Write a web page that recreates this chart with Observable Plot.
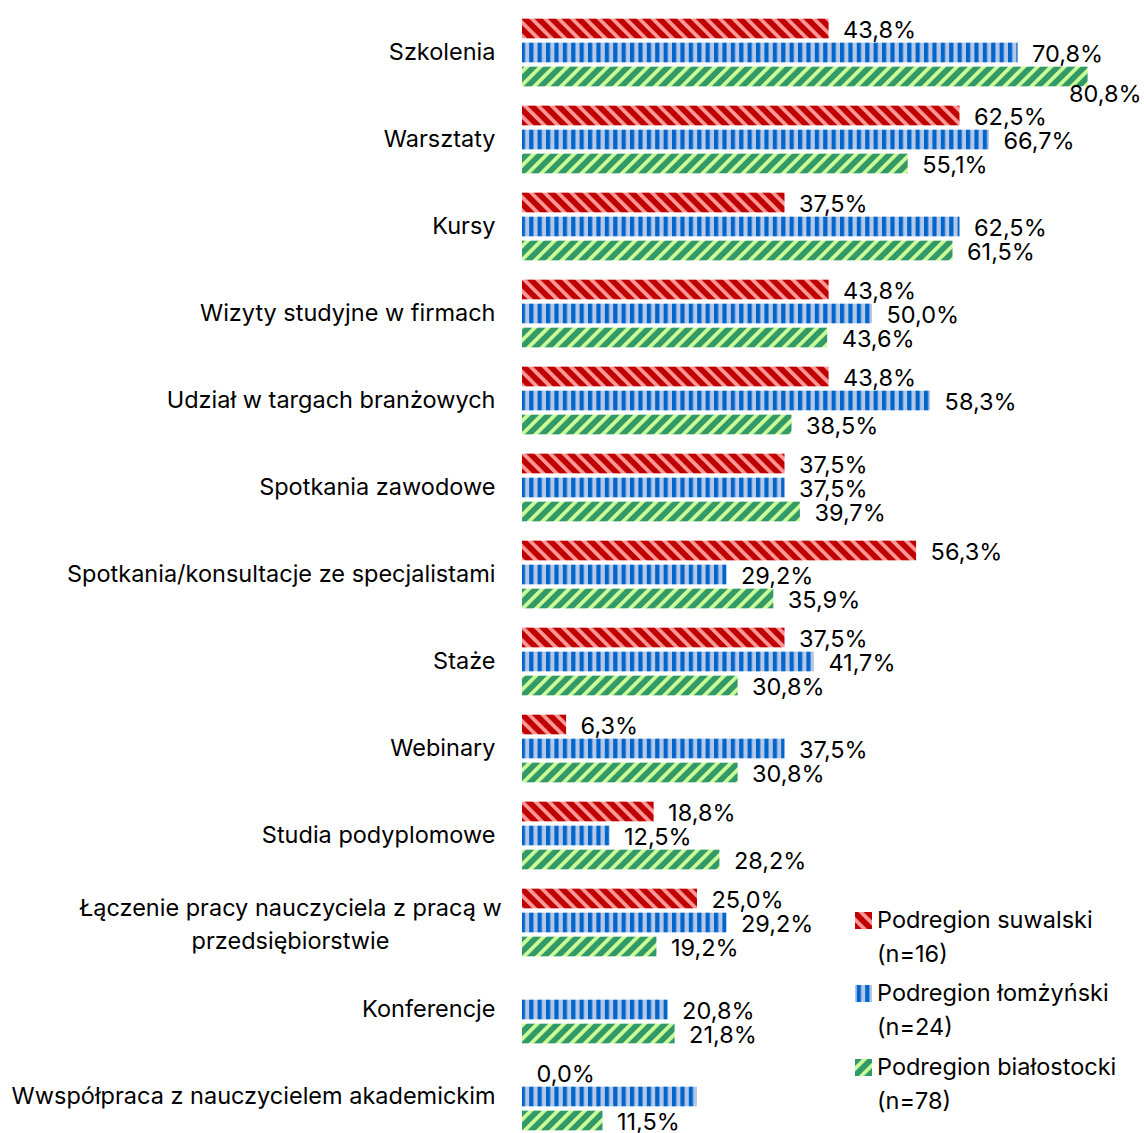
<!DOCTYPE html>
<html>
<head>
<meta charset="utf-8">
<script src="https://cdn.jsdelivr.net/npm/d3@7"></script>
<script src="https://cdn.jsdelivr.net/npm/@observablehq/plot@0.6"></script>
<style>
  html, body { margin: 0; padding: 0; background: #fff; overflow: hidden; }
  #chart { position: relative; width: 1144px; height: 1133px; }
</style>
</head>
<body>
<svg width="0" height="0" style="position:absolute">
  <defs>
    <pattern id="pRed" patternUnits="userSpaceOnUse" width="9.5" height="9.5" patternTransform="rotate(-45)">
      <rect width="9.5" height="9.5" fill="#C00000"></rect>
      <rect x="0" width="3.7" height="9.5" fill="#FF9999"></rect>
    </pattern>
    <pattern id="pBlue" patternUnits="userSpaceOnUse" width="8.4" height="8.4">
      <rect width="8.4" height="8.4" fill="#B4C7E7"></rect>
      <rect x="0" width="4.2" height="8.4" fill="#0066CC"></rect>
    </pattern>
    <pattern id="pGreen" patternUnits="userSpaceOnUse" width="9.5" height="9.5" patternTransform="rotate(45)">
      <rect width="9.5" height="9.5" fill="#339966"></rect>
      <rect x="0" width="3.7" height="9.5" fill="#CCFF99"></rect>
    </pattern>
  </defs>
</svg>
<div id="chart"></div>
<script>
const categories = [
  "Szkolenia",
  "Warsztaty",
  "Kursy",
  "Wizyty studyjne w firmach",
  "Udział w targach branżowych",
  "Spotkania zawodowe",
  "Spotkania/konsultacje ze specjalistami",
  "Staże",
  "Webinary",
  "Studia podyplomowe",
  "Łączenie pracy nauczyciela z pracą w\nprzedsiębiorstwie",
  "Konferencje",
  "Wwspółpraca z nauczycielem akademickim"
];
const seriesNames = ["Podregion suwalski", "Podregion łomżyński", "Podregion białostocki"];
const seriesN = ["(n=16)", "(n=24)", "(n=78)"];
const suwalski   = [43.8, 62.5, 37.5, 43.8, 43.8, 37.5, 56.3, 37.5, 6.3, 18.8, 25.0, null, 0.0];
const lomzynski  = [70.8, 66.7, 62.5, 50.0, 58.3, 37.5, 29.2, 41.7, 37.5, 12.5, 29.2, 20.8, 25.0];
const bialostocki= [80.8, 55.1, 61.5, 43.6, 38.5, 39.7, 35.9, 30.8, 30.8, 28.2, 19.2, 21.8, 11.5];
// value labels that are not shown in the original
const unlabeled = [["Podregion łomżyński", "Wwspółpraca z nauczycielem akademickim"]];

const patterns = ["url(#pRed)", "url(#pBlue)", "url(#pGreen)"];
const seriesValues = [suwalski, lomzynski, bialostocki];

const data = [];
seriesNames.forEach((s, si) => {
  categories.forEach((c, ci) => {
    const v = seriesValues[si][ci];
    if (v == null) return;
    const hidden = unlabeled.some(([us, uc]) => us === s && uc === c);
    data.push({series: s, si, category: c, value: v, hidden});
  });
});

const fmt = v => d3.format(".1f")(v).replace(".", ",") + "%";
const W = 1144, H = 1133, ML = 522;
const pxPerPct = 7;
const xMax = (W - ML) / pxPerPct;
const step = 87.33, firstCenter = 51;
const yRange = [firstCenter - step / 2, firstCenter - step / 2 + step * categories.length];
const FONT = 23.5;
const FAMILY = "Inter, Roboto, 'Noto Sans', sans-serif";
const barH = 20, gap = 24;
const half = step / 2;
const insets = [0, 1, 2].map(i => {
  const top = half + (i - 1) * gap - barH / 2;
  return {insetTop: top, insetBottom: step - top - barH};
});
const labelWidth = 75;
const fits = d => d.value * pxPerPct + 15 + labelWidth <= W - ML;

const marks = [];
[0, 1, 2].forEach(i => {
  const sub = data.filter(d => d.si === i);
  marks.push(Plot.barX(sub, {
    x: "value", y: "category", fill: patterns[i],
    insetTop: insets[i].insetTop, insetBottom: insets[i].insetBottom
  }));
  marks.push(Plot.text(sub.filter(d => !d.hidden && fits(d)), {
    x: "value", y: "category", text: d => fmt(d.value),
    textAnchor: "start", dx: 14, dy: (i - 1) * gap + 1,
    fontSize: FONT, fill: "#000"
  }));
  marks.push(Plot.text(sub.filter(d => !d.hidden && !fits(d)), {
    y: "category", text: d => fmt(d.value), frameAnchor: "right",
    textAnchor: "end", dx: -3, dy: (i - 1) * gap + 17,
    fontSize: FONT, fill: "#000"
  }));
});

const singleLine = categories.filter(c => !c.includes("\n"));
const multiLine = categories.filter(c => c.includes("\n"));
marks.push(Plot.text(singleLine, {
  y: d => d, text: d => d, frameAnchor: "left", textAnchor: "end",
  dx: -27, dy: -1, fontSize: FONT, fill: "#000"
}));
marks.push(Plot.text(multiLine, {
  y: d => d, text: d => d, frameAnchor: "left", textAnchor: "middle",
  dx: -232, dy: -1, lineHeight: 1.42, fontSize: FONT, fill: "#000"
}));

const chart = Plot.plot({
  width: W, height: H,
  marginLeft: ML, marginRight: 0, marginTop: 0, marginBottom: 0,
  style: {fontFamily: FAMILY, background: "#fff"},
  x: {domain: [0, xMax], axis: null},
  y: {domain: categories, range: yRange, padding: 0, axis: null},
  marks
});

// legend
const svg = d3.select(chart);
const lg = svg.append("g")
  .attr("font-family", FAMILY).attr("font-size", FONT).attr("text-anchor", "start");
const legendY = [920, 993, 1067];
seriesNames.forEach((s, i) => {
  const y = legendY[i];
  lg.append("rect").attr("x", 855).attr("y", y - 8).attr("width", 17).attr("height", 17).attr("fill", patterns[i]);
  lg.append("text").attr("x", 877).attr("y", y).attr("dy", "0.35em").attr("fill", "#000").text(s);
  lg.append("text").attr("x", 877).attr("y", y + 34).attr("dy", "0.35em").attr("fill", "#000").text(seriesN[i]);
});

document.getElementById("chart").appendChild(chart);
</script>
</body>
</html>
